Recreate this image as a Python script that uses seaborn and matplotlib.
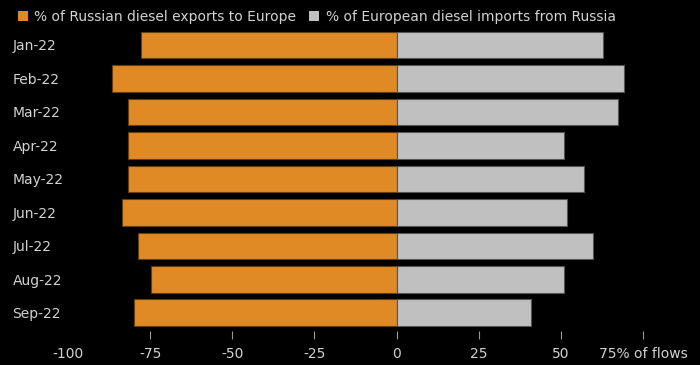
import matplotlib
matplotlib.use("Agg")
import matplotlib.pyplot as plt
from matplotlib.patches import Patch
import seaborn as sns
import pandas as pd

months = ["Jan-22", "Feb-22", "Mar-22", "Apr-22", "May-22",
          "Jun-22", "Jul-22", "Aug-22", "Sep-22"]
russian_exports_to_europe = [-77.7, -86.6, -81.8, -81.8, -81.8, -83.7, -78.8, -74.8, -79.8]
european_imports_from_russia = [62.8, 69.2, 67.3, 51.0, 56.9, 51.9, 59.8, 51.0, 40.9]
series_names = ["% of Russian diesel exports to Europe",
                "% of European diesel imports from Russia"]
xticks = [-100, -75, -50, -25, 0, 25, 50, 75]
xtick_labels = ["-100", "-75", "-50", "-25", "0", "25", "50", "75% of flows"]

ORANGE = "#E08A26"
GREY = "#C0C0C0"
TEXT = "#D2D2D2"

df = pd.concat([
    pd.DataFrame({"month": months, "value": russian_exports_to_europe, "series": series_names[0]}),
    pd.DataFrame({"month": months, "value": european_imports_from_russia, "series": series_names[1]}),
])

sns.set_theme(style="dark")
plt.rcParams["font.family"] = ["DejaVu Sans"]

fig = plt.figure(figsize=(7, 3.65), dpi=100, facecolor="black")
ax = fig.add_axes([68 / 700, 26 / 365, 575 / 700, 310.75 / 365])
ax.set_facecolor("black")

sns.barplot(data=df, x="value", y="month", hue="series", orient="h", dodge=False,
            palette=[ORANGE, GREY], saturation=1, width=0.8, ax=ax, legend=False)

# darker outlines on the bars
for bar in ax.patches:
    fc = bar.get_facecolor()
    bar.set_edgecolor((fc[0] * 0.45, fc[1] * 0.45, fc[2] * 0.45, 1))
    bar.set_linewidth(0.8)

ax.set_xlim(-100, 75)
ax.set_ylim(8.78, -0.5)
ax.set_xticks(xticks)
ax.set_xticklabels(xtick_labels)
ax.set(xlabel="", ylabel="")
ax.grid(False)
for s in ax.spines.values():
    s.set_visible(False)

ax.tick_params(axis="x", direction="in", length=6, width=0.8, color="#9a9a9a",
               pad=6, labelsize=10, labelcolor=TEXT, bottom=True)
ax.xaxis.get_major_ticks()[0].tick1line.set_visible(False)
ax.tick_params(axis="y", length=0, pad=40, labelsize=10, labelcolor=TEXT)
for lbl in ax.get_yticklabels():
    lbl.set_horizontalalignment("left")

handles = [Patch(facecolor=ORANGE, edgecolor="none", label=series_names[0]),
           Patch(facecolor=GREY, edgecolor="none", label=series_names[1])]
fig.legend(handles=handles, loc="upper left", bbox_to_anchor=(8 / 700, 1.0), ncol=2,
           frameon=False, fontsize=10, labelcolor=TEXT, handlelength=0.75,
           handleheight=0.75, handletextpad=0.45, columnspacing=0.9,
           borderaxespad=0.3)

fig.savefig("out.png", dpi=100, facecolor="black")
